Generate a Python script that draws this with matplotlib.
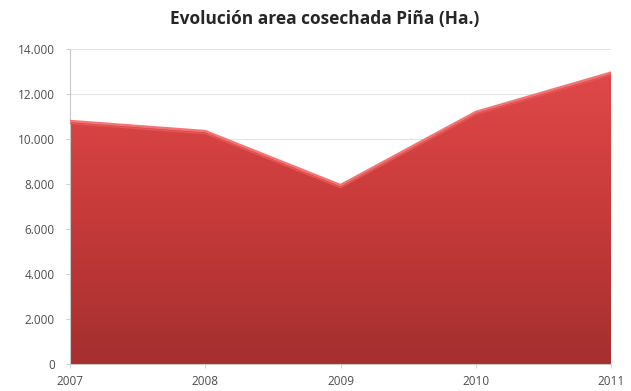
import numpy as np
import matplotlib.pyplot as plt
from matplotlib.colors import LinearSegmentedColormap
from matplotlib.patches import Polygon

# datos: area cosechada de piña (Ha.)
anios = [2007, 2008, 2009, 2010, 2011]
hectareas = [10800, 10350, 7950, 11200, 12950]
y_ticks = [0, 2000, 4000, 6000, 8000, 10000, 12000, 14000]

fig = plt.figure(figsize=(6.31, 3.91), dpi=100)
ax = fig.add_axes([70 / 631, 1 - 364 / 391, 541 / 631, 315 / 391])

ax.set_xlim(anios[0], anios[-1])
ax.set_ylim(0, 14000)

# relleno con degradado vertical
cmap = LinearSegmentedColormap.from_list('rojo', ['#a52f2f', '#c63a3a', '#e04848'])
grad = np.linspace(0, 1, 256).reshape(-1, 1)
img = ax.imshow(grad, cmap=cmap, origin='lower', aspect='auto',
                extent=[anios[0], anios[-1], 0, max(hectareas)], zorder=2)
verts = [(anios[0], 0)] + list(zip(anios, hectareas)) + [(anios[-1], 0)]
poly = Polygon(verts, closed=True, facecolor='none', edgecolor='none')
ax.add_patch(poly)
img.set_clip_path(poly)

# borde superior claro
ax.plot(anios, hectareas, color='#f27575', lw=1.8, zorder=3, solid_joinstyle='round')
ax.plot(anios, [h - 110 for h in hectareas], color='#e85555', lw=1.0, zorder=3)

for t in y_ticks:
    ax.axhline(t, color='#e3e3e3', lw=0.8, zorder=1)

ax.set_yticks(y_ticks)
ax.set_yticklabels([f'{t:,}'.replace(',', '.') for t in y_ticks])
ax.set_xticks(anios)
ax.set_xticklabels([str(a) for a in anios])

for s in ['top', 'right']:
    ax.spines[s].set_visible(False)
ax.spines['left'].set_color('#c8c8c8')
ax.spines['bottom'].set_color('#c8c8c8')
ax.tick_params(axis='both', colors='#c8c8c8', labelcolor='#4d4d4d', labelsize=8.5,
               length=3, width=0.6)
ax.tick_params(axis='y', pad=8)
ax.tick_params(axis='x', pad=5)
for lab in ax.get_xticklabels() + ax.get_yticklabels():
    lab.set_family('Open Sans')

fig.text(0.515, 0.952, 'Evolución area cosechada Piña (Ha.)', ha='center', va='center',
         fontsize=12.5, fontweight='bold', color='#262626', family='Open Sans')

fig.savefig('out.png', dpi=100)
